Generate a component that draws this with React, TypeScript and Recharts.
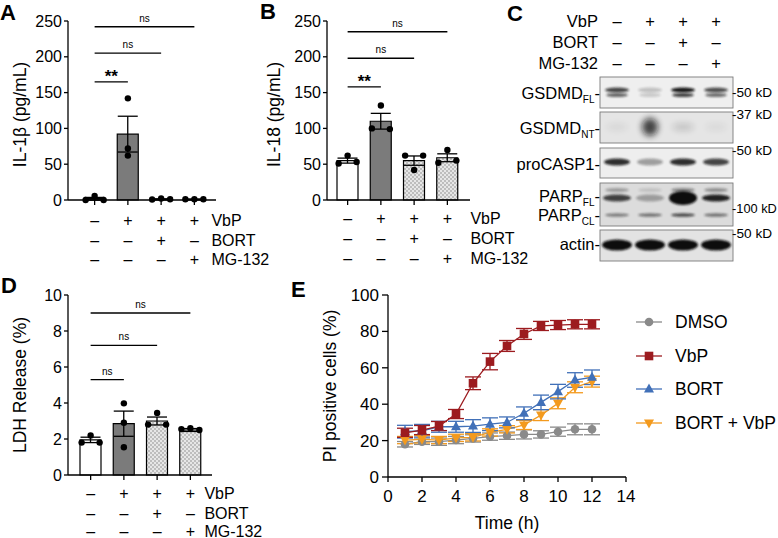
import React from 'react';
import { ComposedChart, LineChart, Bar, Line, XAxis, YAxis, ErrorBar, ReferenceLine, Cell } from 'recharts';

const FONT = '"Liberation Sans", Arial, Helvetica, sans-serif';

// treatment groups shared by panels A, B and D
const groups = ['ctrl', 'vbp', 'vbpBort', 'vbpMg'];
const vbpRow = ['–', '+', '+', '+'];
const bortRow = ['–', '–', '+', '–'];
const mgRow = ['–', '–', '–', '+'];
const rowNames = ['VbP', 'BORT', 'MG-132'];

// A: IL-1β (pg/mL)
const il1bMean = [1.8, 92, 1.2, 1];
const il1bSem = [1.8, 25, 0.4, 0.2];
const il1bRep1 = [0, 142, 0.8, 1];
const il1bRep2 = [5.5, 72, 2, 1];
const il1bRep3 = [0, 62, 1, 1];
const il1bSigY = [165, 205, 242];
const il1bSigText = ['**', 'ns', 'ns'];

// B: IL-18 (pg/mL)
const il18Mean = [55, 110, 55, 59];
const il18Sem = [3.5, 11, 6.5, 5.5];
const il18Rep1 = [51, 100, 62, 52];
const il18Rep2 = [62, 132, 42, 70];
const il18Rep3 = [53, 99, 62, 55];
const il18SigY = [158, 198, 235];
const il18SigText = ['**', 'ns', 'ns'];

// D: LDH release (%)
const ldhMean = [1.95, 2.85, 3.0, 2.5];
const ldhSem = [0.15, 0.7, 0.22, 0.08];
const ldhRep1 = [1.8, 3.98, 2.8, 2.55];
const ldhRep2 = [2.2, 2.9, 3.45, 2.6];
const ldhRep3 = [1.8, 1.54, 2.8, 2.5];
const ldhSigY = [5.3, 7.2, 9.0];
const ldhSigText = ['ns', 'ns', 'ns'];

// E: PI positive cells (%) over time
const timeH = [1, 2, 3, 4, 5, 6, 7, 8, 9, 10, 11, 12];
const dmso = [18, 19.4, 19.4, 20.3, 21.2, 22.2, 22.7, 23.4, 23.4, 24.9, 26.2, 26.2];
const dmsoErr = [1.5, 1.5, 2, 2, 2, 2, 2, 2.5, 2, 2.5, 3, 3];
const vbp = [24.3, 25.8, 28, 34.6, 51.5, 63.4, 72, 78.6, 83, 83.5, 83.9, 83.9];
const vbpErr = [2.5, 2.5, 2.5, 2.5, 3.5, 4.5, 3, 3, 2.5, 2.5, 2.5, 2.5];
const bort = [24.9, 25.4, 27.6, 27.6, 28, 29, 30, 35, 41, 46.9, 53.3, 54.8];
const bortErr = [3.5, 3.5, 3, 3, 3.5, 3.5, 3, 3.5, 4, 4, 4, 4];
const bortVbp = [20.3, 20.7, 20.3, 21.5, 21.8, 24.5, 26.2, 28.6, 34, 40.5, 49.3, 52.4];
const bortVbpErr = [2, 2, 2, 2, 2, 2, 2, 2.5, 3, 3, 3, 3];

// C: western blot band intensities (lanes follow the 4 groups)
const gsdmdFl = [0.75, 0.2, 0.95, 0.7];
const gsdmdNt = [0.06, 0.75, 0.15, 0.05];
const proCasp1 = [0.85, 0.35, 0.85, 0.75];
const parpFl = [0.75, 0.3, 1, 0.9];
const parpCl = [0.45, 0.5, 0.7, 0.5];
const actin = [1, 1, 1, 1];

const eSeries = [
  { key: 'dmso', name: 'DMSO', color: '#8a8a8a', shape: 'circle', values: dmso, err: dmsoErr },
  { key: 'bortVbp', name: 'BORT + VbP', color: '#f39a1e', shape: 'down', values: bortVbp, err: bortVbpErr },
  { key: 'bort', name: 'BORT', color: '#4170b8', shape: 'up', values: bort, err: bortErr },
  { key: 'vbp', name: 'VbP', color: '#9c1b1f', shape: 'square', values: vbp, err: vbpErr },
];
const legendOrder = ['dmso', 'vbp', 'bort', 'bortVbp'];

function TreatmentTick(props: any) {
  const { x, y, payload, nameDx, rowDy } = props;
  const i = groups.indexOf(payload.value);
  const rows = [vbpRow, bortRow, mgRow];
  const st = { fontSize: 16, fontFamily: FONT, fill: '#000' };
  return (
    <g>
      {rows.map((r, k) => (
        <text key={k} x={x} y={y + rowDy[k]} textAnchor="middle" dominantBaseline="central" {...st}>{r[i]}</text>
      ))}
      {i === groups.length - 1 && rowNames.map((n, k) => (
        <text key={'n' + k} x={x + nameDx} y={y + rowDy[k]} textAnchor="start" dominantBaseline="central" {...st}>{n}</text>
      ))}
    </g>
  );
}

function YTitle(props: any) {
  const { viewBox, text, dx, dy = 0, size = 17.5 } = props;
  const cx = viewBox.x + dx;
  const cy = viewBox.y + viewBox.height / 2 + dy;
  return (
    <text x={cx} y={cy} transform={`rotate(-90 ${cx} ${cy})`} textAnchor="middle" dominantBaseline="central"
      fontSize={size} fontFamily={FONT} fill="#000">{text}</text>
  );
}

function XTitle(props: any) {
  const { viewBox, text, dy } = props;
  return (
    <text x={viewBox.x + viewBox.width / 2} y={viewBox.y + dy} textAnchor="middle" dominantBaseline="central"
      fontSize={17.5} fontFamily={FONT} fill="#000">{text}</text>
  );
}

function BarPanel(p: any) {
  const data = groups.map((g, i) => ({
    name: g, mean: p.mean[i], sem: p.sem[i], r1: p.rep1[i], r2: p.rep2[i], r3: p.rep3[i],
  }));
  const checker = `url(#${p.id}-check)`;
  const fills = ['#ffffff', '#7b7b7b', checker, checker];
  const dot = (k: number) => (d: any) => (
    <circle key={`${p.id}-${k}-${d.index}`} cx={d.cx + p.jitter[d.index][k]} cy={d.cy} r={3.2} fill="#000" />
  );
  return (
    <div style={{ position: 'absolute', left: p.left, top: p.top }}>
      <ComposedChart width={p.width} height={p.height} data={data} margin={p.margin}>
        <defs>
          <pattern id={`${p.id}-check`} width={4} height={4} patternUnits="userSpaceOnUse">
            <rect width={4} height={4} fill="#e6e6e6" />
            <rect width={2} height={2} fill="#bdbdbd" />
            <rect x={2} y={2} width={2} height={2} fill="#bdbdbd" />
          </pattern>
        </defs>
        <XAxis dataKey="name" padding={p.padding} interval={0} height={60} tickSize={5} tickMargin={0}
          stroke="#000" strokeWidth={1.3} tick={<TreatmentTick nameDx={p.nameDx} rowDy={p.rowDy} />} />
        <YAxis width={p.yWidth} domain={[0, p.yMax]} ticks={p.yTicks} tickSize={4} tickMargin={2}
          stroke="#000" strokeWidth={1.3} interval={0}
          tick={{ fill: '#000', fontSize: 16, fontFamily: FONT }}
          label={<YTitle text={p.yTitle} dx={p.titleDx} dy={p.titleDy} />} />
        <Bar dataKey="mean" barSize={21} stroke="#000" strokeWidth={1.2} isAnimationActive={false}>
          {data.map((d, i) => <Cell key={d.name} fill={fills[i]} />)}
          <ErrorBar dataKey="sem" width={10} stroke="#000" strokeWidth={1.3} direction="y" />
        </Bar>
        {['r1', 'r2', 'r3'].map((k, j) => (
          <Line key={k} dataKey={k} stroke="none" dot={dot(j)} activeDot={false} legendType="none" isAnimationActive={false} />
        ))}
        {p.sigY.map((v: number, k: number) => (
          <ReferenceLine key={k} segment={[{ x: groups[0], y: v }, { x: groups[k + 1], y: v }]}
            stroke="#000" strokeWidth={1.3}
            label={{
              value: p.sigText[k], position: 'top', fill: '#000', fontFamily: FONT,
              fontSize: p.sigText[k] === '**' ? 17 : 10, fontWeight: p.sigText[k] === '**' ? 'bold' : 'normal',
              offset: p.sigText[k] === '**' ? 0 : 5,
            }} />
        ))}
      </ComposedChart>
    </div>
  );
}

function Marker({ shape, cx, cy, color }: any) {
  if (shape === 'circle') return <circle cx={cx} cy={cy} r={4.3} fill={color} />;
  if (shape === 'square') return <rect x={cx - 4.3} y={cy - 4.3} width={8.6} height={8.6} fill={color} />;
  if (shape === 'up') return <polygon points={`${cx},${cy - 5.5} ${cx + 5},${cy + 3.5} ${cx - 5},${cy + 3.5}`} fill={color} />;
  return <polygon points={`${cx},${cy + 5.5} ${cx + 5},${cy - 3.5} ${cx - 5},${cy - 3.5}`} fill={color} />;
}

function TimeCourse() {
  const data = timeH.map((t, i) => {
    const row: any = { t };
    eSeries.forEach((s) => { row[s.key] = s.values[i]; row[s.key + 'Err'] = s.err[i]; });
    return row;
  });
  return (
    <div style={{ position: 'absolute', left: 260, top: 270 }}>
      <LineChart width={518} height={268} data={data} margin={{ top: 25, right: 152, bottom: 11, left: 0 }}>
        <XAxis dataKey="t" type="number" domain={[0, 14]} ticks={[0, 2, 4, 6, 8, 10, 12, 14]} interval={0}
          height={50} tickSize={5} tickMargin={8} stroke="#000" strokeWidth={1.3}
          tick={{ fill: '#000', fontSize: 17, fontFamily: FONT }}
          label={<XTitle text="Time (h)" dy={46} />} />
        <YAxis width={128} domain={[0, 100]} ticks={[0, 20, 40, 60, 80, 100]} interval={0}
          tickSize={6} tickMargin={3} stroke="#000" strokeWidth={1.3}
          tick={{ fill: '#000', fontSize: 17, fontFamily: FONT }}
          label={<YTitle text="PI positive cells (%)" dx={70} />} />
        {eSeries.map((s) => (
          <Line key={s.key} dataKey={s.key} name={s.name} stroke={s.color} strokeWidth={1.3}
            dot={(d: any) => <Marker key={`${s.key}-${d.index}`} shape={s.shape} cx={d.cx} cy={d.cy} color={s.color} />}
            activeDot={false} isAnimationActive={false}>
            <ErrorBar dataKey={s.key + 'Err'} width={8} stroke={s.color} strokeWidth={1.3} direction="y" />
          </Line>
        ))}
      </LineChart>
    </div>
  );
}

function Band({ x, y, rx, ry, op, blur }: any) {
  return <ellipse cx={x} cy={y} rx={rx} ry={ry} fill="#111" opacity={op} filter={`url(#${blur})`} />;
}

function Blot() {
  const laneX = [617, 650, 683, 716];
  const txt = { fontFamily: FONT, fill: '#000' };
  const boxes = [
    { y: 77, h: 31, fill: '#efefef' },
    { y: 112, h: 31, fill: '#e5e5e5' },
    { y: 148, h: 30, fill: '#eeeeee' },
    { y: 183, h: 43, fill: '#dcdcdc' },
    { y: 230, h: 31, fill: '#e3e3e3' },
  ];
  const headRows = [vbpRow, bortRow, mgRow];
  const headY = [21, 42, 63];
  const kd = [['-50 kD', 92, 13.6], ['-37 kD', 114, 13.6], ['-50 kD', 150, 13.6], ['-100 kD', 208, 12.8], ['-50 kD', 233, 13.6]];
  return (
    <g>
      <defs>
        <filter id="b1" x="-50%" y="-100%" width="200%" height="300%"><feGaussianBlur stdDeviation="1.2" /></filter>
        <filter id="b2" x="-50%" y="-100%" width="200%" height="300%"><feGaussianBlur stdDeviation="3" /></filter>
      </defs>
      {rowNames.map((n, k) => (
        <text key={n} x={598} y={headY[k]} textAnchor="end" dominantBaseline="central" fontSize={16.5} {...txt}>{n}</text>
      ))}
      {headRows.map((r, k) => r.map((s, i) => (
        <text key={`${k}-${i}`} x={laneX[i]} y={headY[k]} textAnchor="middle" dominantBaseline="central" fontSize={16.5} {...txt}>{s}</text>
      )))}
      {boxes.map((b, k) => (
        <rect key={k} x={600} y={b.y} width={133} height={b.h} fill={b.fill} stroke="#7a7a7a" strokeWidth={0.9} />
      ))}
      {laneX.map((x, i) => (
        <g key={i}>
          <Band x={x} y={90} rx={12} ry={2.4} op={gsdmdFl[i]} blur="b1" />
          <Band x={x} y={95} rx={11} ry={2} op={gsdmdFl[i] * 0.8} blur="b1" />
          <Band x={x} y={127} rx={i === 1 ? 8 : 11} ry={i === 1 ? 9 : 4} op={gsdmdNt[i]} blur="b2" />
          <Band x={x} y={162} rx={13} ry={3.5} op={proCasp1[i]} blur="b1" />
          <Band x={x} y={190} rx={12} ry={2} op={parpFl[i] * 0.4} blur="b1" />
          <Band x={x} y={198} rx={14} ry={i === 2 ? 7 : 3.5} op={parpFl[i]} blur="b1" />
          <Band x={x} y={215} rx={12} ry={1.8} op={parpCl[i]} blur="b1" />
          <Band x={x} y={245} rx={15} ry={5.5} op={actin[i]} blur="b1" />
        </g>
      ))}
      <text x={600} y={93} textAnchor="end" dominantBaseline="central" fontSize={16.5} {...txt}>
        GSDMD<tspan fontSize={10} dy={6}>FL</tspan><tspan dy={-6}>-</tspan>
      </text>
      <text x={600} y={128} textAnchor="end" dominantBaseline="central" fontSize={16.5} {...txt}>
        GSDMD<tspan fontSize={10} dy={6}>NT</tspan><tspan dy={-6}>-</tspan>
      </text>
      <text x={600} y={164} textAnchor="end" dominantBaseline="central" fontSize={16.5} {...txt}>proCASP1-</text>
      <text x={600} y={196} textAnchor="end" dominantBaseline="central" fontSize={16.5} {...txt}>
        PARP<tspan fontSize={10} dy={6}>FL</tspan><tspan dy={-6}>-</tspan>
      </text>
      <text x={600} y={215} textAnchor="end" dominantBaseline="central" fontSize={16.5} {...txt}>
        PARP<tspan fontSize={10} dy={6}>CL</tspan><tspan dy={-6}>-</tspan>
      </text>
      <text x={600} y={244} textAnchor="end" dominantBaseline="central" fontSize={16.5} {...txt}>actin-</text>
      {kd.map(([t, y, fs], k) => (
        <text key={k} x={732} y={y as number} dominantBaseline="central" fontSize={fs as number} {...txt}>{t}</text>
      ))}
    </g>
  );
}

function LegendE() {
  const rowsY = [322, 356, 389, 423];
  return (
    <g>
      {legendOrder.map((key, k) => {
        const s = eSeries.find((e) => e.key === key)!;
        return (
          <g key={key}>
            <line x1={636} x2={662} y1={rowsY[k]} y2={rowsY[k]} stroke={s.color} strokeWidth={1.3} />
            <Marker shape={s.shape} cx={649} cy={rowsY[k]} color={s.color} />
            <text x={675} y={rowsY[k]} dominantBaseline="central" fontSize={17.5} fontFamily={FONT} fill="#000">{s.name}</text>
          </g>
        );
      })}
    </g>
  );
}

export default function App() {
  const letter = { fontFamily: FONT, fontSize: 22, fontWeight: 'bold' as const, fill: '#000' };
  const spread = [[-9, 0, 9], [0, 0, 0], [-9, 0, 9], [-9, 0, 9]];
  const spreadB = [[-9, 0, 9], [-9, 0, 9], [-9, 0, 9], [-9, 0, 9]];
  return (
    <div style={{ position: 'absolute', left: 0, top: 0, width: 778, height: 538, background: '#fff', overflow: 'hidden' }}>
      <BarPanel id="a" left={0} top={0} width={280} height={272}
        margin={{ top: 21, right: 64, bottom: 12, left: 0 }} yWidth={68}
        yMax={250} yTicks={[0, 50, 100, 150, 200, 250]} yTitle="IL-1β (pg/mL)" titleDx={20} titleDy={4}
        mean={il1bMean} sem={il1bSem} rep1={il1bRep1} rep2={il1bRep2} rep3={il1bRep3} jitter={spread}
        sigY={il1bSigY} sigText={il1bSigText} padding={{ left: 10, right: 5 }} nameDx={17} rowDy={[15, 35, 54]} />
      <BarPanel id="b" left={260} top={0} width={280} height={272}
        margin={{ top: 21, right: 70, bottom: 12, left: 0 }} yWidth={67}
        yMax={250} yTicks={[0, 50, 100, 150, 200, 250]} yTitle="IL-18 (pg/mL)" titleDx={14} titleDy={4}
        mean={il18Mean} sem={il18Sem} rep1={il18Rep1} rep2={il18Rep2} rep3={il18Rep3} jitter={spreadB}
        sigY={il18SigY} sigText={il18SigText} padding={{ left: 4, right: 6 }} nameDx={23} rowDy={[13, 33, 53]} />
      <BarPanel id="d" left={0} top={270} width={280} height={268}
        margin={{ top: 25, right: 68, bottom: 3, left: 0 }} yWidth={68}
        yMax={10} yTicks={[0, 2, 4, 6, 8, 10]} yTitle="LDH Release (%)" titleDx={20} titleDy={0}
        mean={ldhMean} sem={ldhSem} rep1={ldhRep1} rep2={ldhRep2} rep3={ldhRep3} jitter={spread}
        sigY={ldhSigY} sigText={ldhSigText} padding={{ left: 6, right: 5 }} nameDx={14} rowDy={[13, 33, 51]} />
      <TimeCourse />
      <svg width={778} height={538} style={{ position: 'absolute', left: 0, top: 0, pointerEvents: 'none' }}>
        <text x={0} y={20} {...letter}>A</text>
        <text x={260} y={19} {...letter}>B</text>
        <text x={507} y={21} {...letter}>C</text>
        <text x={1} y={293} {...letter}>D</text>
        <text x={291} y={297} {...letter}>E</text>
        <Blot />
        <LegendE />
      </svg>
    </div>
  );
}
